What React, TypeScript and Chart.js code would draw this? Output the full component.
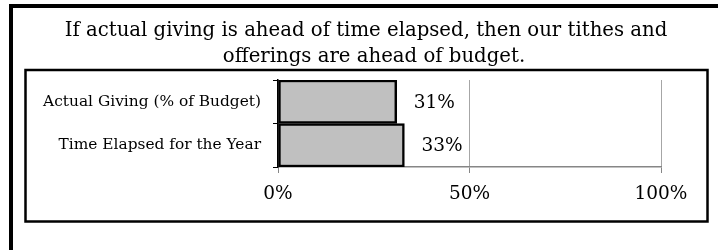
import React, { useEffect, useRef } from "react";
import { Chart, registerables } from "chart.js";

Chart.register(...registerables);

const titleLines = [
  "If actual giving is ahead of time elapsed, then our tithes and",
  "offerings are ahead of budget.",
];
const categories = ["Actual Giving (% of Budget)", "Time Elapsed for the Year"];
const values = [31, 33];
const xTicks = [0, 50, 100];

const SERIF = "'DejaVu Serif', serif";

const framePlugin = {
  id: "frames",
  beforeDraw(chart: any) {
    const ctx = chart.ctx;
    ctx.save();
    ctx.fillStyle = "#ffffff";
    ctx.fillRect(0, 0, chart.width, chart.height);
    // outer frame (continues beyond the canvas to the right and bottom)
    ctx.fillStyle = "#000000";
    ctx.fillRect(9, 4, 4, 400);
    ctx.fillRect(9, 4, 900, 4);
    // inner box
    ctx.strokeStyle = "#000000";
    ctx.lineWidth = 2.5;
    ctx.strokeRect(25.5, 70, 682, 151.5);
    // title
    ctx.fillStyle = "#000000";
    ctx.font = "19.7px " + SERIF;
    ctx.textAlign = "center";
    ctx.textBaseline = "alphabetic";
    ctx.fillText(titleLines[0], 366, 36);
    ctx.fillText(titleLines[1], 374, 62);
    ctx.restore();
  },
};

const labelPlugin = {
  id: "barLabels",
  afterDatasetsDraw(chart: any) {
    const ctx = chart.ctx;
    const meta = chart.getDatasetMeta(0);
    ctx.save();
    ctx.fillStyle = "#000000";
    ctx.font = "18.5px " + SERIF;
    ctx.textAlign = "left";
    ctx.textBaseline = "middle";
    meta.data.forEach((bar: any, i: number) => {
      ctx.fillText(values[i] + "%", bar.x + 17, bar.y + 1);
    });
    ctx.restore();
  },
};

export default function App() {
  const ref = useRef<HTMLCanvasElement>(null);
  useEffect(() => {
    if (!ref.current) return;
    const chart = new Chart(ref.current, {
      type: "bar",
      data: {
        labels: categories,
        datasets: [
          {
            data: values,
            backgroundColor: "#c0c0c0",
            borderColor: "#000000",
            borderWidth: 2.5,
            borderSkipped: false,
            barPercentage: 1,
            categoryPercentage: 1,
          },
        ],
      },
      options: {
        indexAxis: "y",
        animation: false,
        responsive: false,
        maintainAspectRatio: false,
        devicePixelRatio: 1,
        layout: { padding: { left: 30, right: 57, top: 80, bottom: 0 } },
        plugins: {
          legend: { display: false },
          title: { display: false },
          tooltip: { enabled: false },
        },
        scales: {
          x: {
            type: "linear",
            min: 0,
            max: 100,
            afterFit(scale: any) {
              scale.height = 83;
            },
            afterBuildTicks(scale: any) {
              scale.ticks = xTicks.map((v) => ({ value: v }));
            },
            ticks: {
              color: "#000000",
              font: { family: SERIF, size: 18.5 },
              padding: 10,
              callback: (v: any) => v + "%",
            },
            grid: {
              color: "#a6a6a6",
              tickColor: "#868686",
              tickLength: 6,
              lineWidth: 1,
            },
            border: { color: "#868686", width: 1.5 },
          },
          y: {
            type: "category",
            afterFit(scale: any) {
              scale.width = 248;
            },
            ticks: {
              color: "#000000",
              font: { family: SERIF, size: 15.4 },
              padding: 12,
            },
            grid: {
              offset: true,
              drawOnChartArea: false,
              drawTicks: true,
              tickLength: 5,
              tickColor: "#000000",
            },
            border: { color: "#000000", width: 1.5 },
          },
        },
      },
      plugins: [framePlugin, labelPlugin],
    } as any);
    return () => chart.destroy();
  }, []);
  return (
    <div style={{ position: "fixed", left: 0, top: 0, width: 718, height: 250 }}>
      <canvas ref={ref} width={718} height={250} style={{ display: "block", width: 718, height: 250 }} />
    </div>
  );
}
